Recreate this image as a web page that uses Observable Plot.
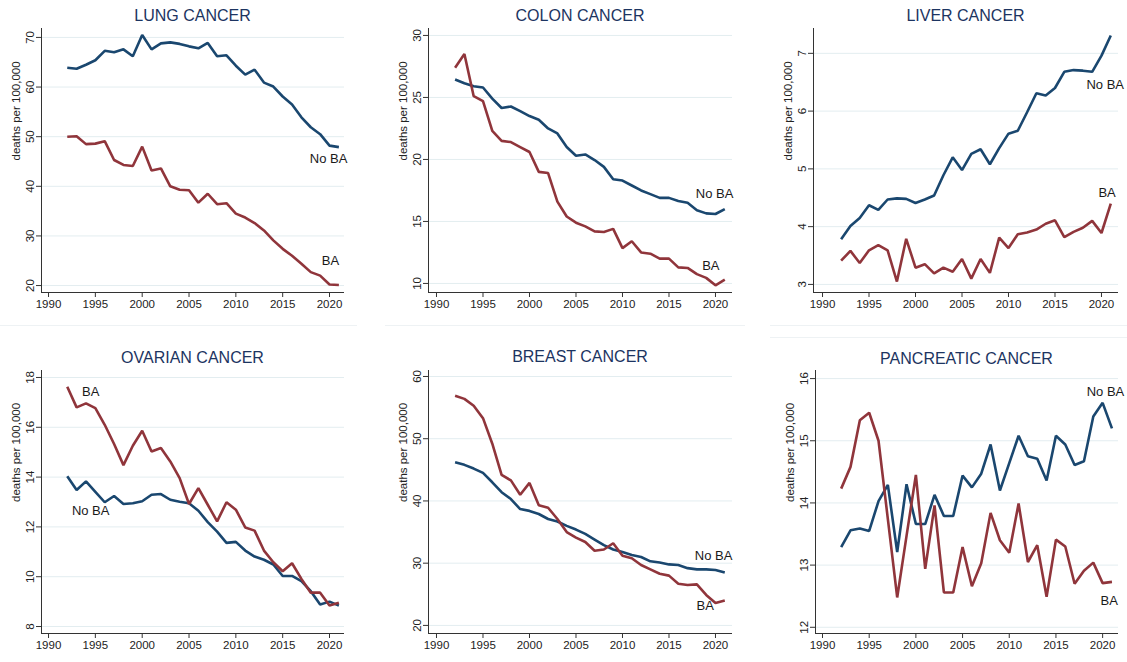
<!DOCTYPE html>
<html>
<head>
<meta charset="utf-8">
<script src="https://cdn.jsdelivr.net/npm/d3@7"></script>
<script src="https://cdn.jsdelivr.net/npm/@observablehq/plot@0.6"></script>
<style>
  html, body { margin: 0; padding: 0; background: #fff; }
  #root { position: relative; width: 1127px; height: 662px; overflow: hidden; background: #fff;
          font-family: "Liberation Sans", Arial, sans-serif; }
  .panel { position: absolute; }
  .title { position: absolute; text-align: center; font-size: 16px; line-height: 20px; color: #1c3461;
           font-family: "Liberation Sans", Arial, sans-serif; white-space: nowrap; }
  .sep { position: absolute; height: 1px; background: #eef2f4; }
</style>
</head>
<body>
<div id="root"></div>
<script>
const years = [1992,1993,1994,1995,1996,1997,1998,1999,2000,2001,2002,2003,2004,2005,2006,2007,2008,2009,2010,2011,2012,2013,2014,2015,2016,2017,2018,2019,2020,2021];
const xTicks = [1990, 1995, 2000, 2005, 2010, 2015, 2020];
const seriesNames = ["No BA", "BA"];
const yLabel = "deaths per 100,000";

const lungNoBA = [63.9,63.7,64.5,65.4,67.3,67.0,67.6,66.2,70.5,67.6,68.8,69.0,68.7,68.2,67.8,68.9,66.2,66.4,64.3,62.5,63.5,60.9,60.1,58.1,56.5,53.9,51.9,50.5,48.2,47.9];
const lungBA   = [50.0,50.1,48.5,48.6,49.1,45.3,44.3,44.1,48.0,43.2,43.6,40.0,39.3,39.2,36.7,38.5,36.4,36.6,34.5,33.7,32.6,31.1,29.1,27.4,26.0,24.4,22.7,22.0,20.2,20.1];

const colonNoBA = [26.45,26.15,25.9,25.8,24.9,24.15,24.27,23.9,23.5,23.2,22.5,22.1,21.0,20.3,20.4,19.95,19.4,18.4,18.3,17.9,17.5,17.2,16.9,16.9,16.65,16.5,15.9,15.65,15.6,16.0];
const colonBA   = [27.4,28.5,25.1,24.7,22.3,21.5,21.4,21.0,20.6,19.0,18.9,16.6,15.4,14.9,14.6,14.2,14.15,14.4,12.85,13.4,12.5,12.4,12.0,12.0,11.3,11.25,10.75,10.45,9.85,10.3];

const liverNoBA = [3.78,4.01,4.15,4.37,4.29,4.47,4.49,4.48,4.41,4.47,4.54,4.89,5.20,4.98,5.26,5.34,5.08,5.36,5.61,5.66,5.98,6.31,6.27,6.40,6.68,6.71,6.70,6.68,6.96,7.31];
const liverBA   = [3.41,3.58,3.37,3.59,3.68,3.59,3.05,3.79,3.29,3.35,3.19,3.29,3.22,3.44,3.10,3.44,3.20,3.81,3.63,3.87,3.90,3.95,4.05,4.11,3.82,3.91,3.98,4.10,3.89,4.40];

const ovarianNoBA = [14.03,13.48,13.83,13.41,12.99,13.24,12.92,12.95,13.03,13.29,13.32,13.09,13.01,12.95,12.65,12.19,11.81,11.36,11.40,11.05,10.81,10.68,10.49,10.03,10.03,9.82,9.42,8.88,9.00,8.84];
const ovarianBA   = [17.63,16.80,16.96,16.77,16.10,15.33,14.48,15.26,15.86,15.03,15.17,14.63,13.96,12.92,13.56,12.89,12.22,12.99,12.69,11.98,11.85,11.05,10.58,10.22,10.54,9.91,9.36,9.36,8.84,8.95];

const breastNoBA = [46.2,45.8,45.2,44.5,43.0,41.4,40.3,38.7,38.4,37.9,37.1,36.7,36.0,35.4,34.7,33.8,32.9,32.2,31.8,31.3,31.0,30.3,30.1,29.8,29.7,29.2,29.0,29.0,28.9,28.5];
const breastBA   = [56.9,56.4,55.3,53.3,49.2,44.2,43.3,41.0,42.9,39.3,38.9,37.1,35.0,34.1,33.4,32.0,32.2,33.2,31.2,30.8,29.7,29.0,28.3,28.0,26.7,26.5,26.6,24.9,23.6,24.0];

const pancNoBA = [13.29,13.56,13.59,13.55,14.03,14.29,13.21,14.30,13.66,13.66,14.13,13.79,13.79,14.44,14.25,14.47,14.94,14.20,14.64,15.08,14.75,14.71,14.36,15.08,14.94,14.61,14.67,15.39,15.61,15.20];
const pancBA   = [14.23,14.58,15.33,15.45,15.00,13.74,12.48,13.47,14.45,12.94,13.96,12.56,12.56,13.29,12.66,13.03,13.84,13.40,13.20,13.99,13.05,13.32,12.49,13.41,13.30,12.70,12.91,13.04,12.71,12.73];

// series-label anchors (data coordinates)
const lungLabels    = [{t:"No BA", x:2019.9, y:45.6}, {t:"BA", x:2020.1, y:25.0}];
const colonLabels   = [{t:"No BA", x:2019.9, y:17.2}, {t:"BA", x:2019.5, y:11.4}];
const liverLabels   = [{t:"No BA", x:2020.4, y:6.46}, {t:"BA", x:2020.6, y:4.58}];
const ovarianLabels = [{t:"BA", x:1994.5, y:17.44}, {t:"No BA", x:1994.5, y:12.66}];
const breastLabels  = [{t:"No BA", x:2019.8, y:31.2}, {t:"BA", x:2018.9, y:23.2}];
const pancLabels    = [{t:"No BA", x:2020.3, y:15.78}, {t:"BA", x:2020.7, y:12.42}];

const BLUE = "#1a476f", RED = "#90353b";

const panels = [
  {title:"LUNG CANCER", noba:lungNoBA, ba:lungBA, labels:lungLabels, yTicks:[20,30,40,50,60,70],
   left:0, top:0, w:375, h:325, ml:41, mr:31, mt:28, mb:33, xd:[1989.25,2021.6], yd:[18.6,71.8], titleY:16},
  {title:"COLON CANCER", noba:colonNoBA, ba:colonBA, labels:colonLabels, yTicks:[10,15,20,25,30],
   left:375, top:0, w:375, h:325, ml:53, mr:18, mt:28, mb:33, xd:[1989.14,2021.83], yd:[9.27,30.56], titleY:16},
  {title:"LIVER CANCER", noba:liverNoBA, ba:liverBA, labels:liverLabels, yTicks:[3,4,5,6,7],
   left:750, top:0, w:377, h:325, ml:63, mr:9, mt:28, mb:33, xd:[1989.03,2021.83], yd:[2.86,7.43], titleY:16},
  {title:"OVARIAN CANCER", noba:ovarianNoBA, ba:ovarianBA, labels:ovarianLabels, yTicks:[8,10,12,14,16,18],
   left:0, top:330, w:375, h:332, ml:41, mr:31, mt:40, mb:29, xd:[1989.25,2021.6], yd:[7.72,18.28], titleY:358},
  {title:"BREAST CANCER", noba:breastNoBA, ba:breastBA, labels:breastLabels, yTicks:[20,30,40,50,60],
   left:375, top:330, w:375, h:332, ml:53, mr:18, mt:40, mb:29, xd:[1989.14,2021.83], yd:[18.7,60.96], titleY:357},
  {title:"PANCREATIC CANCER", noba:pancNoBA, ba:pancBA, labels:pancLabels, yTicks:[12,13,14,15,16],
   left:750, top:330, w:377, h:332, ml:65, mr:9, mt:40, mb:29, xd:[1989.25,2021.7], yd:[11.9,16.13], titleY:359}
];

const root = document.getElementById("root");

// faint panel border lines
[[0,325,357],[385,325,360],[770,325,357],[770,337,357]].forEach(([l,t,w]) => {
  const d = document.createElement("div");
  d.className = "sep"; d.style.left = l+"px"; d.style.top = t+"px"; d.style.width = w+"px";
  root.appendChild(d);
});

for (const p of panels) {
  const rows = [];
  years.forEach((yr, i) => {
    rows.push({year: yr, value: p.noba[i], series: seriesNames[0]});
  });
  years.forEach((yr, i) => {
    rows.push({year: yr, value: p.ba[i], series: seriesNames[1]});
  });

  const chart = Plot.plot({
    width: p.w, height: p.h,
    marginLeft: p.ml, marginRight: p.mr, marginTop: p.mt, marginBottom: p.mb,
    style: {fontFamily: "'Liberation Sans', Arial, sans-serif", fontSize: "11.5px", color: "#222", background: "transparent"},
    x: {domain: p.xd},
    y: {domain: p.yd},
    color: {domain: seriesNames, range: [BLUE, RED]},
    marks: [
      Plot.gridY(p.yTicks, {stroke: "#e3edf0", strokeOpacity: 1, strokeWidth: 1}),
      Plot.axisX(xTicks, {tickFormat: d => String(d), tickSize: 5, tickPadding: 2, label: null, stroke: "#333", fill: "#222"}),
      Plot.axisY(p.yTicks, {tickFormat: d => String(d), tickSize: 5, tickPadding: 3, tickRotate: -90, textAnchor: "middle", lineAnchor: "bottom",
                            label: null, stroke: "#333", fill: "#222"}),
      Plot.ruleX([p.xd[0]], {stroke: "#333", strokeWidth: 1}),
      Plot.ruleY([p.yd[0]], {stroke: "#333", strokeWidth: 1}),
      Plot.text([yLabel], {text: d => d, frameAnchor: "left", rotate: -90, dx: -25, fontSize: 11.5, fill: "#222"}),
      Plot.line(rows, {x: "year", y: "value", z: "series", stroke: "series", strokeWidth: 2.6,
                       strokeLinejoin: "miter", strokeLinecap: "butt"}),
      Plot.text(p.labels, {x: "x", y: "y", text: "t", fontSize: 13, fill: "#1a1a1a", textAnchor: "middle"})
    ]
  });

  const wrap = document.createElement("div");
  wrap.className = "panel";
  wrap.style.left = p.left + "px"; wrap.style.top = p.top + "px";
  wrap.style.width = p.w + "px"; wrap.style.height = p.h + "px";
  wrap.appendChild(chart);
  root.appendChild(wrap);

  const t = document.createElement("div");
  t.className = "title";
  t.textContent = p.title;
  t.style.left = (p.left + p.ml) + "px";
  t.style.width = (p.w - p.ml - p.mr) + "px";
  t.style.top = (p.titleY - 10) + "px";
  root.appendChild(t);
}
</script>
</body>
</html>
